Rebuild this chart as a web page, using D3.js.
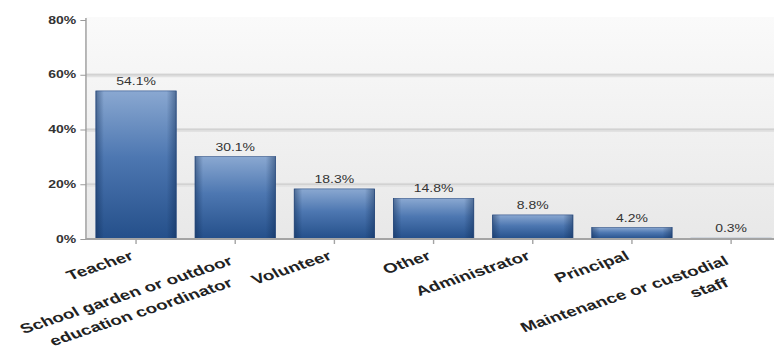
<!DOCTYPE html>
<html>
<head>
<meta charset="utf-8">
<script src="https://cdn.jsdelivr.net/npm/d3@7"></script>
<style>
  html, body { margin: 0; padding: 0; background: #fff; }
  svg { display: block; }
  text { font-family: "Liberation Sans", Arial, sans-serif; }
</style>
</head>
<body>
<div id="chart"></div>
<script>
// Roles of respondents (share of responses, %)
const categories = [
  "Teacher",
  "School garden or outdoor\neducation coordinator",
  "Volunteer",
  "Other",
  "Administrator",
  "Principal",
  "Maintenance or custodial\nstaff"
];
const values = [54.1, 30.1, 18.3, 14.8, 8.8, 4.2, 0.3];
const yTicks = [0, 20, 40, 60, 80];
const gridTicks = [20, 40, 60];

const W = 774, H = 352;
const stretch = 1.4;              // chart is laid out narrow and widened horizontally
const vbW = W / stretch;

const svg = d3.select("#chart").append("svg")
  .attr("width", W).attr("height", H)
  .attr("viewBox", `0 0 ${vbW} ${H}`)
  .attr("preserveAspectRatio", "none");

const plotLeft = 61.4, plotRight = 558, plotTop = 20, plotBottom = 239;

const x = d3.scaleBand().domain(categories).range([plotLeft, plotRight])
  .paddingInner(0.19).paddingOuter(0.1);
const y = d3.scaleLinear().domain([0, 80]).range([plotBottom, plotTop]);

const defs = svg.append("defs");
const bg = defs.append("linearGradient").attr("id", "plotBg")
  .attr("x1", 0).attr("y1", 0).attr("x2", 0).attr("y2", 1);
bg.append("stop").attr("offset", "0%").attr("stop-color", "#fafafa");
bg.append("stop").attr("offset", "100%").attr("stop-color", "#e8e8e8");

const barFill = defs.append("linearGradient").attr("id", "barFill")
  .attr("x1", 0).attr("y1", 0).attr("x2", 0).attr("y2", 1);
barFill.append("stop").attr("offset", "0%").attr("stop-color", "#8aa8d1");
barFill.append("stop").attr("offset", "45%").attr("stop-color", "#4d77b1");
barFill.append("stop").attr("offset", "100%").attr("stop-color", "#244f8a");

const barShade = defs.append("linearGradient").attr("id", "barShade")
  .attr("x1", 0).attr("y1", 0).attr("x2", 1).attr("y2", 0);
barShade.append("stop").attr("offset", "0%").attr("stop-color", "#0c2850").attr("stop-opacity", 0.45);
barShade.append("stop").attr("offset", "10%").attr("stop-color", "#0c2850").attr("stop-opacity", 0);
barShade.append("stop").attr("offset", "88%").attr("stop-color", "#0c2850").attr("stop-opacity", 0);
barShade.append("stop").attr("offset", "100%").attr("stop-color", "#0c2850").attr("stop-opacity", 0.45);

// plot background
svg.append("rect")
  .attr("x", plotLeft).attr("y", y(80) - 3)
  .attr("width", vbW - plotLeft).attr("height", plotBottom - y(80) + 3)
  .attr("fill", "url(#plotBg)");

// gridlines with a soft halo
const grid = svg.append("g");
grid.selectAll("line.halo").data(gridTicks).join("line").attr("class", "halo")
  .attr("x1", plotLeft).attr("x2", vbW)
  .attr("y1", d => y(d) + 0.5).attr("y2", d => y(d) + 0.5)
  .attr("stroke", "#e2e2e2").attr("stroke-width", 4);
grid.selectAll("line.main").data(gridTicks).join("line").attr("class", "main")
  .attr("x1", plotLeft).attr("x2", vbW)
  .attr("y1", d => y(d)).attr("y2", d => y(d))
  .attr("stroke", "#d2d2d2").attr("stroke-width", 1.3);

// bars
const bars = svg.append("g");
bars.selectAll("rect.bar").data(values).join("rect").attr("class", "bar")
  .attr("x", (d, i) => x(categories[i]))
  .attr("y", d => y(d))
  .attr("width", x.bandwidth())
  .attr("height", d => plotBottom - y(d))
  .attr("fill", "url(#barFill)")
  .attr("stroke", "#2b4e84").attr("stroke-width", 0.6);
bars.selectAll("rect.shade").data(values).join("rect").attr("class", "shade")
  .attr("x", (d, i) => x(categories[i]))
  .attr("y", d => y(d))
  .attr("width", x.bandwidth())
  .attr("height", d => plotBottom - y(d))
  .attr("fill", "url(#barShade)");

// value labels
svg.append("g").selectAll("text").data(values).join("text")
  .attr("x", (d, i) => x(categories[i]) + x.bandwidth() / 2)
  .attr("y", d => y(d) - 6)
  .attr("text-anchor", "middle")
  .attr("font-size", 10)
  .attr("fill", "#333")
  .text(d => d.toFixed(1) + "%");

// y axis
const yAxis = svg.append("g")
  .attr("transform", `translate(${plotLeft},0)`)
  .call(d3.axisLeft(y).tickValues(yTicks).tickFormat(d => d + "%")
    .tickSize(4).tickSizeOuter(0).tickPadding(3));
yAxis.select(".domain").attr("stroke", "#9a9a9a").attr("d", `M0,${y(80) - 2}V${plotBottom}`);
yAxis.selectAll(".tick line").attr("stroke", "#9a9a9a");
yAxis.selectAll(".tick text")
  .attr("font-size", 10).attr("font-weight", "bold")
  .attr("font-family", "'Liberation Sans', Arial, sans-serif")
  .attr("fill", "#333");

// x axis
const xAxis = svg.append("g")
  .attr("transform", `translate(0,${plotBottom})`)
  .call(d3.axisBottom(x).tickSize(5).tickSizeOuter(0).tickFormat(""));
xAxis.select(".domain").attr("stroke", "#a4a4a4").attr("stroke-width", 2)
  .attr("d", `M${plotLeft},0H${vbW}`);
xAxis.selectAll(".tick line").attr("stroke", "#a4a4a4");
xAxis.selectAll(".tick text").remove();

// rotated category labels; wrapped labels stack their lines downward
xAxis.selectAll(".tick").each(function(d) {
  const lines = d.split("\n");
  const first = lines.length > 1 ? 25 : 20;
  d3.select(this).selectAll("text.lbl").data(lines).join("text")
    .attr("class", "lbl")
    .attr("transform", (t, i) => `translate(-1,${first + i * 22}) rotate(-25)`)
    .attr("text-anchor", "end")
    .attr("font-size", 13.5)
    .attr("font-weight", "bold")
    .attr("font-family", "'Liberation Sans', Arial, sans-serif")
    .attr("fill", "#222")
    .text(t => t);
});
</script>
</body>
</html>
